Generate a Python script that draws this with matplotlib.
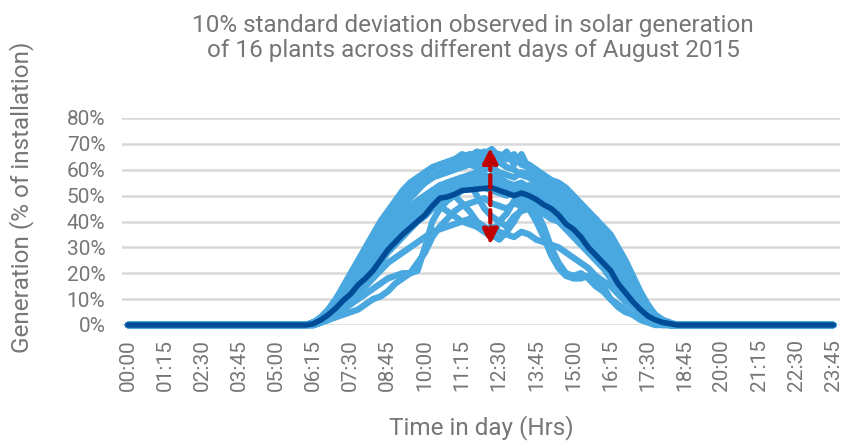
import matplotlib
matplotlib.use("Agg")
import matplotlib.pyplot as plt

plt.rcParams['font.family'] = ['Roboto', 'DejaVu Sans']

# 15 minute slots over the day
times = ["%02d:%02d" % (m // 60, m % 60) for m in range(0, 24 * 60, 15)]
tick_labels = times[::5]

# daytime values (% of installation) from 06:00 onwards, one per 15 min
plants_day = [
    [0, 1, 3, 6, 10, 15, 20, 25, 30, 35, 40, 44, 48, 52, 55, 57, 59, 61, 62, 63, 64, 65, 66, 66, 67, 66, 66, 65, 64, 63, 62, 60, 58, 56, 54, 52, 49, 46, 43, 40, 36, 32, 28, 22, 16, 11, 6, 3, 1, 0, 0, 0],
    [0, 1, 2, 5, 9, 13, 18, 23, 28, 33, 38, 42, 46, 50, 53, 56, 58, 60, 62, 63, 64, 66, 65, 67, 66, 68, 65, 64, 66, 62, 61, 59, 57, 55, 53, 51, 48, 45, 42, 39, 35, 31, 26, 20, 15, 10, 6, 3, 1, 0, 0, 0],
    [0, 1, 2, 4, 7, 11, 15, 20, 25, 30, 35, 39, 43, 47, 50, 53, 55, 57, 59, 60, 61, 62, 63, 62, 64, 65, 63, 61, 60, 58, 57, 55, 53, 51, 49, 47, 45, 42, 39, 36, 33, 29, 25, 20, 15, 10, 6, 3, 1, 0, 0, 0],
    [0, 0, 1, 3, 6, 9, 13, 17, 21, 25, 29, 33, 36, 39, 42, 45, 47, 49, 51, 53, 54, 55, 56, 57, 56, 58, 57, 55, 54, 55, 53, 51, 49, 47, 45, 43, 41, 38, 35, 32, 29, 25, 21, 17, 13, 9, 5, 3, 1, 0, 0, 0],
    [0, 0, 1, 2, 4, 6, 8, 10, 12, 14, 16, 18, 19, 20, 20, 21, 30, 40, 45, 48, 50, 52, 53, 54, 55, 53, 52, 51, 52, 50, 49, 48, 46, 44, 42, 40, 38, 35, 32, 28, 25, 22, 18, 14, 10, 7, 4, 2, 1, 0, 0, 0],
    [0, 1, 2, 4, 7, 10, 14, 18, 22, 26, 30, 33, 36, 38, 40, 42, 44, 45, 46, 44, 42, 40, 41, 38, 36, 34, 40, 38, 42, 44, 45, 44, 43, 42, 40, 38, 36, 33, 30, 27, 24, 20, 16, 13, 9, 6, 4, 2, 1, 0, 0, 0],
    [0, 1, 2, 4, 7, 11, 15, 19, 23, 27, 31, 35, 39, 42, 45, 48, 50, 52, 54, 55, 56, 57, 58, 59, 58, 57, 56, 55, 53, 51, 48, 44, 38, 30, 24, 20, 19, 20, 18, 15, 13, 10, 8, 6, 4, 2, 1, 0, 0, 0, 0, 0],
    [0, 0, 1, 3, 5, 8, 11, 14, 17, 20, 24, 28, 31, 34, 37, 40, 42, 45, 48, 50, 51, 52, 53, 54, 53, 52, 51, 50, 51, 49, 48, 46, 44, 42, 40, 37, 34, 31, 28, 25, 22, 18, 14, 11, 8, 5, 3, 1, 0, 0, 0, 0],
    [0, 0, 1, 2, 4, 6, 9, 12, 15, 18, 21, 24, 26, 28, 30, 32, 34, 36, 37, 38, 39, 40, 39, 38, 37, 38, 36, 35, 34, 36, 35, 33, 32, 31, 30, 28, 26, 24, 22, 19, 17, 15, 12, 9, 7, 5, 3, 2, 1, 0, 0, 0],
    [0, 1, 2, 5, 8, 12, 17, 22, 27, 31, 35, 39, 43, 46, 49, 52, 55, 57, 59, 61, 63, 64, 62, 65, 63, 60, 64, 67, 62, 66, 60, 58, 57, 56, 55, 53, 50, 47, 44, 41, 37, 33, 28, 23, 17, 12, 7, 4, 2, 0, 0, 0],
    [0, 1, 2, 4, 7, 10, 14, 18, 22, 26, 30, 34, 37, 40, 43, 46, 48, 50, 51, 52, 50, 47, 44, 40, 38, 35, 33, 36, 40, 45, 48, 47, 46, 45, 43, 41, 39, 36, 33, 30, 27, 23, 19, 15, 11, 7, 4, 2, 1, 0, 0, 0],
    [0, 1, 2, 4, 7, 10, 14, 18, 22, 26, 30, 34, 37, 40, 43, 46, 48, 50, 52, 53, 54, 55, 55, 56, 55, 54, 53, 52, 50, 48, 45, 40, 34, 27, 22, 19, 18, 18, 19, 17, 15, 10, 7, 5, 4, 3, 2, 1, 0, 0, 0, 0],
    [0, 0, 1, 2, 3, 4, 5, 6, 8, 10, 11, 13, 16, 18, 20, 24, 28, 34, 38, 41, 44, 46, 47, 48, 49, 47, 46, 45, 47, 46, 45, 44, 43, 41, 40, 38, 36, 33, 30, 27, 24, 20, 16, 12, 9, 6, 3, 2, 1, 0, 0, 0],
    [0, 1, 3, 6, 10, 14, 19, 24, 29, 33, 37, 41, 44, 47, 50, 53, 55, 57, 58, 59, 60, 61, 62, 61, 60, 61, 59, 58, 57, 59, 58, 56, 55, 53, 51, 49, 47, 45, 43, 41, 38, 35, 30, 25, 19, 13, 8, 4, 2, 1, 0, 0],
    [0, 0, 1, 3, 6, 9, 12, 16, 20, 24, 27, 31, 34, 37, 40, 43, 45, 47, 49, 51, 52, 53, 54, 55, 54, 56, 55, 54, 52, 53, 51, 50, 49, 47, 45, 43, 40, 37, 34, 31, 28, 24, 20, 16, 12, 8, 5, 3, 1, 0, 0, 0],
    [0, 1, 2, 4, 7, 11, 15, 19, 24, 28, 32, 36, 40, 43, 46, 48, 50, 52, 53, 55, 56, 57, 55, 50, 45, 42, 40, 43, 48, 52, 54, 53, 51, 50, 48, 46, 43, 40, 37, 34, 30, 26, 22, 17, 13, 9, 5, 3, 1, 0, 0, 0],
]

average_day = [0, 0.5, 2, 4, 6.5, 9.5, 12, 15.5, 18, 21, 25, 29, 32, 35, 37.5, 40, 42.5, 46, 49, 49.5,
               50.5, 52, 52.2, 52.5, 52.8, 53, 52, 51, 50, 51, 50, 48.5, 46.5, 45, 42.5, 39, 37, 34,
               30, 27, 24, 21, 16, 12.5, 9, 6, 3.5, 2, 1, 0.5, 0, 0]

start_slot = 24  # 06:00


def full_day(day_vals):
    return [0] * start_slot + day_vals + [0] * (len(times) - start_slot - len(day_vals))


# spread arrow at noon
arrow_x = 48.8
arrow_low, arrow_high = 31, 68.5

grey = '#767676'

fig = plt.figure(figsize=(8.43, 4.41), dpi=100)
ax = fig.add_axes([122 / 843, 1 - 325 / 441, (840 - 122) / 843, (325 - 118) / 441])

x = list(range(len(times)))
for p in plants_day:
    ax.plot(x, full_day(p), color='#48A8DF', lw=4.6, solid_capstyle='round',
            solid_joinstyle='round', clip_on=False, zorder=2)
ax.plot(x, full_day(average_day), color='#004C97', lw=4, solid_capstyle='round',
        clip_on=False, zorder=3)

ax.annotate('', xy=(arrow_x, arrow_high), xytext=(arrow_x, arrow_low),
            arrowprops=dict(arrowstyle='<|-|>,head_length=0.9,head_width=0.45',
                            color='#C00000', lw=3, linestyle=(0, (3, 1.2)),
                            shrinkA=0, shrinkB=0), zorder=4)

ax.set_xlim(-0.8, 95.9)
ax.set_ylim(0, 80)
ax.set_yticks(range(0, 81, 10))
ax.set_yticklabels(['%d%%' % v for v in range(0, 81, 10)])
ax.set_xticks(x[::5])
ax.set_xticklabels(tick_labels, rotation=90)
ax.tick_params(length=0, labelsize=15, colors=grey)
ax.tick_params(axis='y', pad=12)
ax.tick_params(axis='x', pad=10)
ax.grid(axis='y', color='#D9D9D9', lw=1.8)
ax.set_axisbelow(True)
for s in ax.spines.values():
    s.set_visible(False)

fig.text(0.5 * (122 + 840) / 843, 1 - 428 / 441, 'Time in day (Hrs)', ha='center', va='center',
         fontsize=17.5, color=grey)
fig.text(22 / 843, 1 - 197 / 441, 'Generation (% of installation)', ha='center', va='center',
         rotation=90, fontsize=17.5, color=grey)
fig.text(473 / 843, 1 - 38 / 441,
         '10% standard deviation observed in solar generation\nof 16 plants across different days of August 2015',
         ha='center', va='center', fontsize=17.5, color=grey, linespacing=1.1)

fig.savefig('out.png', dpi=100)
